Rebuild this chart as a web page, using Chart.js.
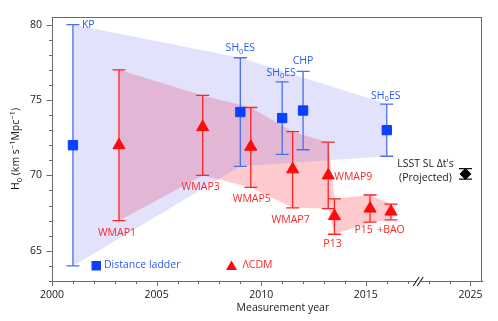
<!DOCTYPE html>
<html><head><meta charset="utf-8">
<script src="https://cdn.jsdelivr.net/npm/chart.js@4/dist/chart.umd.min.js"></script>
<style>html,body{margin:0;padding:0;background:#fff;}canvas{display:block;}</style>
</head><body>
<canvas id="c" width="498" height="321"></canvas>
<script>
// ---------------- data ----------------
const ladderYears = [2001, 2009, 2011, 2012, 2016];
const ladderH0    = [72.0, 74.2, 73.8, 74.3, 73.0];
const ladderHi    = [80.0, 77.8, 76.2, 76.9, 74.73];
const ladderLo    = [64.0, 70.6, 71.4, 71.7, 71.27];
const ladderNames = ['KP', 'SH0ES', 'SH0ES', 'CHP', 'SH0ES'];
const ladderBandIdx = [0, 1, 4];

const lcdmYears = [2003.2, 2007.2, 2009.5, 2011.5, 2013.2, 2013.5, 2015.2, 2016.2];
const lcdmH0    = [72.0, 73.2, 71.9, 70.4, 70.0, 67.3, 67.8, 67.6];
const lcdmHi    = [77.0, 75.3, 74.5, 72.9, 72.2, 68.45, 68.7, 68.1];
const lcdmLo    = [67.0, 70.0, 69.2, 67.85, 67.8, 66.1, 66.9, 67.05];
const lcdmNames = ['WMAP1', 'WMAP3', 'WMAP5', 'WMAP7', 'WMAP9', 'P13', 'P15', '+BAO'];

const lsstYears = [2024.76];
const lsstH0    = [70.1];
const lsstHi    = [70.45];
const lsstLo    = [69.75];
const lsstText  = ["LSST SL \u0394t's", '(Projected)'];

const xTickYears  = [2000,2001,2002,2003,2004,2005,2006,2007,2008,2009,2010,2011,2012,2013,2014,2015,2016,2017,2023,2024,2025];
const xLabelYears = [2000, 2005, 2010, 2015, 2025];
const yTickValues = [63,64,65,66,67,68,69,70,71,72,73,74,75,76,77,78,79,80];
const yLabelValues = [65, 70, 75, 80];
const legendNames = ['Distance ladder', '\u039bCDM'];

// broken axis
const breakAt = 2017.5, gapYears = 5;
const toAxis = y => (y > breakAt ? y - gapYears : y);
const fromAxis = v => (v > breakAt ? v + gapYears : v);

// ---------------- styles / layout ----------------
const FONT = "'Open Sans', sans-serif";
const FS = 10.5;
const BLUE_MARK = '#0a40ff', BLUE_BAR = 'rgb(75,110,240)', BLUE_TXT = 'rgb(45,90,245)';
const RED_MARK = '#ff0a0a', RED_BAR = 'rgb(255,35,35)', RED_TXT = 'rgb(250,40,40)';
const AXIS = '#6a6a6a';

const ladderLabelLayout = [
  {ref:'hi', dx:9, dy:0, align:'left'},
  {ref:'hi', dx:0, dy:-9.5, align:'center'},
  {ref:'hi', dx:-1, dy:-9, align:'center'},
  {ref:'hi', dx:0, dy:-10, align:'center'},
  {ref:'hi', dx:-1, dy:-8.5, align:'center'}
];
const lcdmLabelLayout = [
  {ref:'lo', dx:-2, dy:12.5, align:'center'},
  {ref:'lo', dx:-2, dy:12, align:'center'},
  {ref:'lo', dx:1, dy:12, align:'center'},
  {ref:'lo', dx:-2, dy:12, align:'center'},
  {ref:'mid', dx:6, dy:1.5, align:'left'},
  {ref:'lo', dx:-2, dy:9.5, align:'center'},
  {ref:'lo', dx:-6.5, dy:7.5, align:'center'},
  {ref:'lo', dx:0, dy:10, align:'center'}
];

const pts = (xs, ys) => xs.map((x, i) => ({x: toAxis(x), y: ys[i]}));
const pick = (arr, idx) => idx.map(i => arr[i]);

function drawRich(ctx, text, x, y, align, size) {
  const parts = text === 'SH0ES' ? [['SH', 0], ['0', 1], ['ES', 0]] : [[text, 0]];
  const widths = parts.map(p => { ctx.font = (p[1] ? size * 0.72 : size) + 'px ' + FONT; return ctx.measureText(p[0]).width; });
  const total = widths.reduce((a, b) => a + b, 0);
  let cx = align === 'left' ? x : align === 'right' ? x - total : x - total / 2;
  ctx.textAlign = 'left'; ctx.textBaseline = 'middle';
  parts.forEach((p, i) => {
    ctx.font = (p[1] ? size * 0.72 : size) + 'px ' + FONT;
    ctx.fillText(p[0], cx, y + (p[1] ? size * 0.3 : 0));
    cx += widths[i];
  });
}

const decor = {
  id: 'decor',
  beforeDatasetDraw(chart, args) {
    if (args.index !== 5) return;
    const ctx = chart.ctx, xs = chart.scales.x, ys = chart.scales.y;
    const bar = (x, lo, hi, color) => {
      const X = xs.getPixelForValue(toAxis(x)), Y1 = ys.getPixelForValue(lo), Y2 = ys.getPixelForValue(hi);
      ctx.save(); ctx.strokeStyle = color; ctx.lineWidth = 1.3; ctx.beginPath();
      ctx.moveTo(X, Y1); ctx.lineTo(X, Y2);
      ctx.moveTo(X - 6.5, Y1); ctx.lineTo(X + 6.5, Y1);
      ctx.moveTo(X - 6.5, Y2); ctx.lineTo(X + 6.5, Y2);
      ctx.stroke(); ctx.restore();
    };
    ladderYears.forEach((x, i) => bar(x, ladderLo[i], ladderHi[i], BLUE_BAR));
    lcdmYears.forEach((x, i) => bar(x, lcdmLo[i], lcdmHi[i], RED_BAR));
    lsstYears.forEach((x, i) => bar(x, lsstLo[i], lsstHi[i], '#111'));
  },
  afterDraw(chart) {
    const ctx = chart.ctx, xs = chart.scales.x, ys = chart.scales.y, a = chart.chartArea;
    ctx.save();
    ctx.strokeStyle = AXIS; ctx.lineWidth = 1;
    ctx.strokeRect(Math.round(a.left) + 0.5, Math.round(a.top) + 0.5, Math.round(a.right - a.left) - 1, Math.round(a.bottom - a.top));
    ctx.beginPath();
    xTickYears.forEach(yr => {
      const X = Math.round(xs.getPixelForValue(toAxis(yr))) + 0.5;
      const len = yr % 5 === 0 ? 5 : 3;
      ctx.moveTo(X, a.bottom); ctx.lineTo(X, a.bottom + len);
    });
    yTickValues.forEach(v => {
      const Y = Math.round(ys.getPixelForValue(v)) + 0.5;
      const len = v % 5 === 0 ? 5.5 : 3;
      ctx.moveTo(a.left, Y); ctx.lineTo(a.left - len, Y);
    });
    ctx.stroke();
    const bx = xs.getPixelForValue(breakAt), by = Math.round(a.bottom) + 0.5;
    ctx.fillStyle = '#fff'; ctx.fillRect(bx - 2, by - 1.5, 4, 3);
    ctx.strokeStyle = '#222'; ctx.lineWidth = 1.1; ctx.beginPath();
    ctx.moveTo(bx - 5, by + 4.5); ctx.lineTo(bx + 1, by - 4.5);
    ctx.moveTo(bx - 1, by + 4.5); ctx.lineTo(bx + 5, by - 4.5);
    ctx.stroke();

    const lab = (xsArr, hiArr, loArr, midArr, names, layout, color) => {
      ctx.fillStyle = color;
      names.forEach((n, i) => {
        const L = layout[i];
        const X = xs.getPixelForValue(toAxis(xsArr[i]));
        const v = L.ref === 'hi' ? hiArr[i] : L.ref === 'lo' ? loArr[i] : midArr[i];
        drawRich(ctx, n, X + L.dx, ys.getPixelForValue(v) + L.dy, L.align, FS);
      });
    };
    lab(ladderYears, ladderHi, ladderLo, ladderH0, ladderNames, ladderLabelLayout, BLUE_TXT);
    lab(lcdmYears, lcdmHi, lcdmLo, lcdmH0, lcdmNames, lcdmLabelLayout, RED_TXT);

    const lx = xs.getPixelForValue(toAxis(lsstYears[0])), ly = ys.getPixelForValue(lsstH0[0]);
    ctx.fillStyle = '#1a1a1a';
    drawRich(ctx, lsstText[0], lx - 40, ly - 10, 'center', FS);
    drawRich(ctx, lsstText[1], lx - 40, ly + 4.5, 'center', FS);

    const gy = a.bottom - 15.5;
    ctx.fillStyle = BLUE_MARK; ctx.fillRect(a.left + 39.5, gy - 4.5, 9.5, 9.5);
    ctx.fillStyle = BLUE_TXT; drawRich(ctx, legendNames[0], a.left + 52, gy, 'left', FS);
    ctx.fillStyle = RED_MARK; ctx.beginPath();
    ctx.moveTo(a.left + 179.5, gy - 5); ctx.lineTo(a.left + 185, gy + 4.5); ctx.lineTo(a.left + 174, gy + 4.5); ctx.closePath(); ctx.fill();
    ctx.fillStyle = RED_TXT; drawRich(ctx, legendNames[1], a.left + 190.5, gy, 'left', FS);

    ctx.fillStyle = '#1a1a1a';
    drawRich(ctx, 'Measurement year', a.left + (a.right - a.left) * 0.537, a.bottom + 27, 'center', FS);

    ctx.translate(16, (a.top + a.bottom) / 2);
    ctx.rotate(-Math.PI / 2);
    const parts = [['H', 0], ['0', 1], [' (km s', 0], ['\u22121', -1], ['Mpc', 0], ['\u22121', -1], [')', 0]];
    const w = parts.map(p => { ctx.font = (p[1] ? 7.5 : FS) + 'px ' + FONT; return ctx.measureText(p[0]).width; });
    let cx = -w.reduce((s, v) => s + v, 0) / 2;
    ctx.textBaseline = 'middle'; ctx.textAlign = 'left';
    parts.forEach((p, i) => {
      ctx.font = (p[1] ? 7.5 : FS) + 'px ' + FONT;
      ctx.fillText(p[0], cx, p[1] === 1 ? 3.5 : p[1] === -1 ? -3.5 : 0);
      cx += w[i];
    });
    ctx.restore();
  }
};

Chart.defaults.font.family = FONT;
Chart.defaults.font.size = FS;
Chart.defaults.color = '#1a1a1a';

new Chart(document.getElementById('c'), {
  type: 'line',
  data: {
    datasets: [
      {label: 'ladderHi', data: pts(pick(ladderYears, ladderBandIdx), pick(ladderHi, ladderBandIdx)),
       borderColor: 'transparent', borderWidth: 0, pointRadius: 0, tension: 0, fill: '+1',
       backgroundColor: 'rgba(110,110,245,0.2)', order: 4},
      {label: 'ladderLo', data: pts(pick(ladderYears, ladderBandIdx), pick(ladderLo, ladderBandIdx)),
       borderColor: 'transparent', borderWidth: 0, pointRadius: 0, tension: 0, fill: false, order: 4},
      {label: 'lcdmHi', data: pts(lcdmYears, lcdmHi),
       borderColor: 'transparent', borderWidth: 0, pointRadius: 0, tension: 0, fill: '+1',
       backgroundColor: 'rgba(255,60,75,0.27)', order: 5},
      {label: 'lcdmLo', data: pts(lcdmYears, lcdmLo),
       borderColor: 'transparent', borderWidth: 0, pointRadius: 0, tension: 0, fill: false, order: 5},
      {label: 'Distance ladder', data: pts(ladderYears, ladderH0), showLine: false,
       pointStyle: 'rect', pointRadius: 6.6, borderWidth: 1, pointBackgroundColor: BLUE_MARK, pointBorderColor: BLUE_MARK, order: 1},
      {label: 'LCDM', data: pts(lcdmYears, lcdmH0), showLine: false,
       pointStyle: 'triangle', pointRadius: 7, borderWidth: 1, pointBackgroundColor: RED_MARK, pointBorderColor: RED_MARK, order: 1},
      {label: 'LSST', data: pts(lsstYears, lsstH0), showLine: false,
       pointStyle: 'rectRot', pointRadius: 5.5, borderWidth: 1, pointBackgroundColor: '#000', pointBorderColor: '#000', order: 0}
    ]
  },
  options: {
    responsive: false, animation: false, events: [],
    layout: {padding: {top: 17, right: 16, left: 0, bottom: 0}},
    plugins: {legend: {display: false}, tooltip: {enabled: false}},
    scales: {
      x: {
        type: 'linear', min: 2000, max: 2020.55,
        grid: {display: false, drawTicks: false},
        border: {display: true, color: AXIS, width: 1},
        afterBuildTicks: s => { s.ticks = xTickYears.map(y => ({value: toAxis(y)})); },
        afterFit: s => { s.height = 40; },
        ticks: {autoSkip: false, maxRotation: 0, padding: 8, color: '#1a1a1a', font: {size: FS},
          callback: v => { const yr = Math.round(fromAxis(v)); return xLabelYears.includes(yr) ? String(yr) : ''; }}
      },
      y: {
        type: 'linear', min: 63, max: 80.5,
        grid: {display: false, drawTicks: false},
        border: {display: true, color: AXIS, width: 1},
        afterBuildTicks: s => { s.ticks = yTickValues.map(v => ({value: v})); },
        afterFit: s => { s.width = 52; },
        ticks: {autoSkip: false, padding: 10, color: '#1a1a1a', font: {size: FS},
          callback: v => (yLabelValues.includes(v) ? String(v) : '')}
      }
    }
  },
  plugins: [decor]
});
</script>
</body></html>
